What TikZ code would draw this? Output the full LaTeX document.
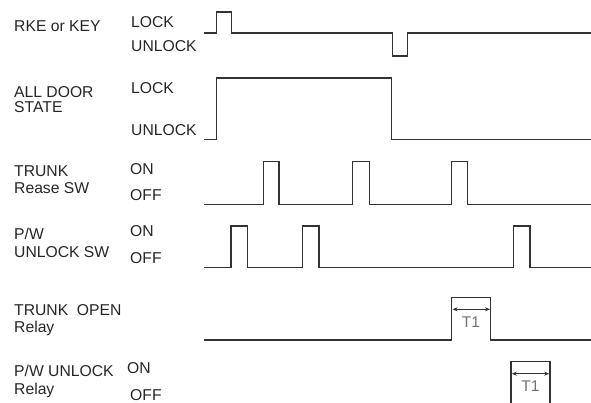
\documentclass[tikz,border=0pt]{standalone}
\usepackage{fontspec}
\setmainfont{Liberation Sans}
\usetikzlibrary{arrows.meta}
\begin{document}
\begin{tikzpicture}[x=1pt,y=-1pt,
  lbl/.style={anchor=base west, inner sep=0pt, font=\fontsize{15.7}{18}\selectfont, text=black!85},
  sig/.style={line width=1.1pt, draw=black!80, line join=miter},
  tlab/.style={anchor=base, inner sep=0pt, font=\fontsize{15.5}{18}\selectfont, text=black!55},
  dimarrow/.style={{Stealth[length=5pt,width=4pt]}-{Stealth[length=5pt,width=4pt]}, line width=1pt, draw=black!80}]
\useasboundingbox (0,0) rectangle (591,403);
% left labels
\node[lbl] (rke) at (14,31.3) {RKE or KEY};
\node[lbl] (rkel) at (131,27.3) {LOCK};
\node[lbl] (rkeu) at (131,52) {UNLOCK};
\node[lbl] (ad1) at (14,97.7) {ALL DOOR};
\node[lbl] (ad2) at (14,112.7) {STATE};
\node[lbl] (adl) at (131,93.3) {LOCK};
\node[lbl] (adu) at (131,136) {UNLOCK};
\node[lbl] (tr1) at (14,176.7) {TRUNK};
\node[lbl] (tr2) at (14,193.3) {Rease SW};
\node[lbl] (tron) at (130,174.3) {ON};
\node[lbl] (troff) at (130,201) {OFF};
\node[lbl] (pw1) at (14,239.3) {P/W};
\node[lbl] (pw2) at (14,257.7) {UNLOCK SW};
\node[lbl] (pwon) at (130,236.7) {ON};
\node[lbl] (pwoff) at (130,263.3) {OFF};
\node[lbl] (to1) at (14,315) {TRUNK\ \ OPEN};
\node[lbl] (to2) at (14,332.5) {Relay};
\node[lbl] (pr1) at (14,376.7) {P/W UNLOCK};
\node[lbl] (pr2) at (14,394) {Relay};
\node[lbl] (pron) at (127,373.3) {ON};
\node[lbl] (proff) at (130,400.5) {OFF};
% signals
\draw[sig] (204,33) -| (216.7,12) -| (231.3,33) -| (392.7,56) -| (407.7,33) -- (591,33);
\draw[sig] (204,139.3) -| (216.7,78) -| (391.3,139.3) -- (591,139.3);
\draw[sig] (204,204.3) -| (263.3,161.7) -| (279,204.3) -| (352.7,161.7) -| (369.3,204.3) -| (451.3,161.7) -| (467.3,204.3) -- (591,204.3);
\draw[sig] (204,267.7) -| (231,226) -| (247.7,267.7) -| (302.3,226) -| (319,267.7) -| (513.3,226) -| (530,267.7) -- (591,267.7);
\draw[sig] (204,340) -| (451.7,297.3) -| (490.7,340) -- (591,340);
\draw[sig] (511,404) |- (550,361.3) -- (550,404);
% T1 dimensions
\coordinate (a1) at (452.5,309.3);
\coordinate (b1) at (490,309.3);
\draw[dimarrow] (a1) -- (b1);
\node[tlab] (t1a) at (471,327) {T1};
\coordinate (a2) at (511.8,373.7);
\coordinate (b2) at (549.2,373.7);
\draw[dimarrow] (a2) -- (b2);
\node[tlab] (t1b) at (530.5,391) {T1};
\end{tikzpicture}
\end{document}
